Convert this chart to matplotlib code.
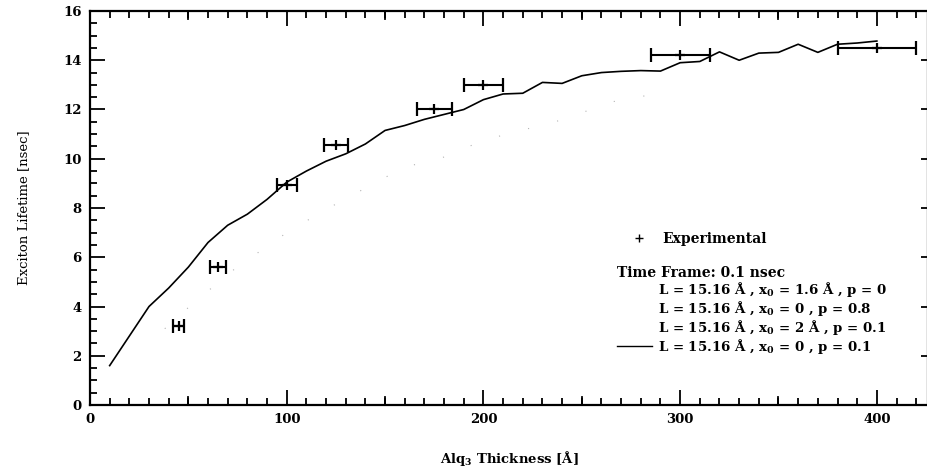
import matplotlib
matplotlib.use("Agg")
import matplotlib.pyplot as plt
from matplotlib.lines import Line2D
from matplotlib.ticker import MultipleLocator

plt.rcParams['font.family'] = ['DejaVu Serif']
plt.rcParams['mathtext.fontset'] = 'custom'
plt.rcParams['mathtext.rm'] = 'DejaVu Serif:bold'
plt.rcParams['mathtext.it'] = 'DejaVu Serif:bold'
plt.rcParams['mathtext.bf'] = 'DejaVu Serif:bold'

# Experimental exciton lifetimes vs. Alq3 thickness
exp_thickness = [45, 65, 100, 125, 175, 200, 300, 400]
exp_thickness_err = [3, 4, 5, 6, 9, 10, 15, 20]
exp_lifetime = [3.2, 5.6, 8.93, 10.57, 12.0, 12.98, 14.23, 14.48]

# Simulation: L = 15.16 A, x0 = 0, p = 0.1
sim_thickness = [10, 20, 30, 40, 50, 60, 70, 80, 90, 100, 110, 120, 130, 140,
                 150, 160, 170, 180, 190, 200, 210, 220, 230, 240, 250, 260,
                 270, 280, 290, 300, 310, 320, 330, 340, 350, 360, 370, 380,
                 390, 400]
sim_lifetime = [1.6, 2.8, 4.0, 4.75, 5.6, 6.6, 7.3, 7.75, 8.35, 9.05, 9.5,
                9.9, 10.2, 10.6, 11.15, 11.35, 11.6, 11.8, 12.0, 12.4, 12.63,
                12.66, 13.1, 13.06, 13.37, 13.5, 13.55, 13.58, 13.56, 13.9,
                13.95, 14.34, 14.0, 14.29, 14.32, 14.65, 14.32, 14.65, 14.7,
                14.78]

# Faint simulation curve (only sparse fragments survive in print)
faint_thickness = [38, 42, 50, 70, 74, 96, 104, 125, 160, 169, 180, 198, 200,
                   239, 266, 274, 294]
faint_lifetime = [3.1, 3.35, 3.96, 5.3, 5.55, 6.78, 7.2, 8.16, 9.67, 9.83,
                  10.07, 10.68, 10.75, 11.56, 12.32, 12.43, 12.74]

legend_labels = [
    r"L = 15.16 Å , x$_0$ = 1.6 Å , p = 0",
    r"L = 15.16 Å , x$_0$ = 0 , p = 0.8",
    r"L = 15.16 Å , x$_0$ = 2 Å , p = 0.1",
    r"L = 15.16 Å , x$_0$ = 0 , p = 0.1",
]

fig = plt.figure(figsize=(9.28, 4.75), dpi=100)
ax = fig.add_axes([90 / 928, 70 / 475, 838 / 928, 394 / 475])

ax.plot(faint_thickness, faint_lifetime, color='#b4b4b4', lw=0.8,
        linestyle=(0, (1, 26)))
sim_line, = ax.plot(sim_thickness, sim_lifetime, color='black', lw=1.2)
ax.errorbar(exp_thickness, exp_lifetime, xerr=exp_thickness_err, fmt='+',
            color='black', ms=7, mew=1.6, elinewidth=1.5, capsize=5,
            capthick=1.2)

ax.set_xlim(0, 426)
ax.set_ylim(0, 16)

ax.xaxis.set_major_locator(MultipleLocator(100))
ax.xaxis.set_minor_locator(MultipleLocator(10))
ax.yaxis.set_major_locator(MultipleLocator(2))
ax.yaxis.set_minor_locator(MultipleLocator(0.5))
ax.tick_params(which='both', direction='in', top=True, right=True,
               width=1.3, colors='black')
ax.tick_params(which='major', length=11)
ax.tick_params(which='minor', length=5)
ax.tick_params(axis='y', which='minor', right=False)
ax.tick_params(axis='both', which='major', labelsize=9.5, pad=6)
for lab in ax.get_xticklabels() + ax.get_yticklabels():
    lab.set_fontweight('bold')
for t in ax.yaxis.get_major_ticks():
    t.tick2line.set_markersize(5)
for s in ax.spines.values():
    s.set_linewidth(1.6)

# medium ticks halfway between major x ticks
for xm in [50, 150, 250, 350]:
    ax.plot([xm, xm], [0, 0.34], color='black', lw=1.3, clip_on=False)
    ax.plot([xm, xm], [16, 15.66], color='black', lw=1.3, clip_on=False)

ax.set_xlabel(r"Alq$_3$ Thickness [Å]", fontsize=9.5, fontweight='bold',
              labelpad=16)
ax.set_ylabel("Exciton Lifetime [nsec]", fontsize=9.5, labelpad=24)

exp_handle = Line2D([], [], marker='+', color='black', linestyle='none',
                    ms=6, mew=1.0)
leg1 = ax.legend([exp_handle], ["Experimental"], loc='upper left',
                 bbox_to_anchor=((628 - 90) / 838, (475 - 70 - 232) / 394),
                 frameon=False, handlelength=1.6, handletextpad=0.9,
                 prop={'size': 10, 'weight': 'bold'}, borderpad=0,
                 borderaxespad=0)
ax.add_artist(leg1)

blank = [Line2D([], [], color='none') for _ in range(3)]
leg2 = ax.legend(blank + [sim_line], legend_labels,
                 title="Time Frame: 0.1 nsec", loc='upper left',
                 bbox_to_anchor=((617 - 90) / 838, (475 - 70 - 266) / 394),
                 frameon=False, handlelength=2.6, handletextpad=0.5,
                 prop={'size': 9.6, 'weight': 'bold'},
                 title_fontproperties={'size': 10, 'weight': 'bold'},
                 alignment='left', labelspacing=0.0, borderpad=0,
                 borderaxespad=0)
leg2.get_lines()[-1].set_linewidth(1.0)

fig.savefig("out.png", dpi=100)
